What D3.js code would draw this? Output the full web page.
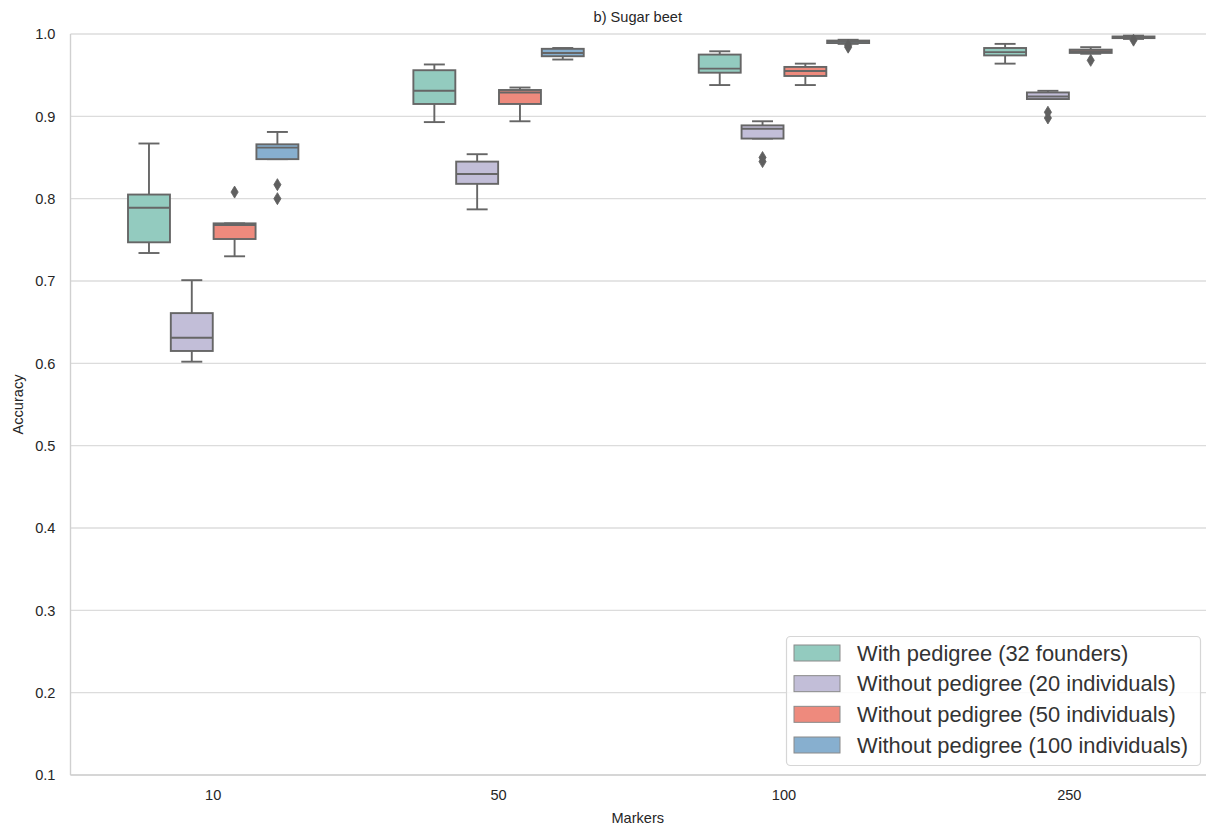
<!DOCTYPE html>
<html>
<head>
<meta charset="utf-8">
<script src="https://cdn.jsdelivr.net/npm/d3@7"></script>
<style>
  html, body { margin: 0; padding: 0; background: #fff; }
  svg { display: block; font-family: "Liberation Sans", Arial, sans-serif; }
</style>
</head>
<body>
<svg id="chart" width="1206" height="828"></svg>
<script>
// ---------- data ----------
const categories = ["10", "50", "100", "250"];
const seriesNames = [
  "With pedigree (32 founders)",
  "Without pedigree (20 individuals)",
  "Without pedigree (50 individuals)",
  "Without pedigree (100 individuals)"
];
const seriesColors = ["#93cbbf", "#c2bed8", "#ee8a7d", "#87afcf"];
const yTicks = [0.1, 0.2, 0.3, 0.4, 0.5, 0.6, 0.7, 0.8, 0.9, 1.0];

// box stats per category: [whiskerLow, q1, median, q3, whiskerHigh]
const withPedigree32 = [
  [0.734, 0.747, 0.789, 0.805, 0.867],
  [0.893, 0.915, 0.931, 0.956, 0.963],
  [0.938, 0.953, 0.958, 0.975, 0.979],
  [0.964, 0.974, 0.978, 0.983, 0.988]
];
const withoutPedigree20 = [
  [0.602, 0.615, 0.631, 0.661, 0.701],
  [0.787, 0.818, 0.830, 0.845, 0.854],
  [0.873, 0.873, 0.885, 0.889, 0.894],
  [0.921, 0.921, 0.924, 0.929, 0.931]
];
const withoutPedigree50 = [
  [0.730, 0.751, 0.768, 0.770, 0.770],
  [0.894, 0.915, 0.929, 0.932, 0.935],
  [0.938, 0.949, 0.955, 0.960, 0.964],
  [0.976, 0.977, 0.979, 0.981, 0.984]
];
const withoutPedigree100 = [
  [0.848, 0.848, 0.862, 0.866, 0.881],
  [0.969, 0.973, 0.977, 0.982, 0.983],
  [0.988, 0.989, 0.991, 0.992, 0.993],
  [0.994, 0.995, 0.996, 0.997, 0.998]
];
// outliers per category
const outliers32 = [[], [], [], []];
const outliers20 = [[], [], [0.845, 0.850], [0.898, 0.905]];
const outliers50 = [[0.808], [], [], [0.968]];
const outliers100 = [[0.800, 0.817], [], [0.984, 0.986], [0.9925]];

const seriesStats = [withPedigree32, withoutPedigree20, withoutPedigree50, withoutPedigree100];
const seriesOutliers = [outliers32, outliers20, outliers50, outliers100];

// ---------- layout ----------
const svg = d3.select("#chart");
const margin = { left: 70.5, right: 1212, top: 34, bottom: 775 };
const textColor = "#262626";
const gridColor = "#dcdcdc";
const lineGray = "#666666";
const fontSize = 14.6;

const x = d3.scaleBand().domain(categories).range([margin.left, margin.right]).paddingInner(0).paddingOuter(0);
const hueWidth = x.bandwidth() * 0.6 / seriesNames.length;
const hueScale = d3.scaleBand().domain(d3.range(seriesNames.length))
  .range([x.bandwidth() * 0.2, x.bandwidth() * 0.8]);
const boxW = hueWidth * 0.98;

const y = d3.scaleLinear().domain([0.1, 1.0]).range([margin.bottom, margin.top]);

// grid lines
svg.append("g").selectAll("line").data(yTicks).join("line")
  .attr("x1", margin.left).attr("x2", 1206)
  .attr("y1", d => y(d)).attr("y2", d => y(d))
  .attr("stroke", gridColor).attr("stroke-width", 1.3);

// spines
svg.append("line").attr("x1", margin.left).attr("x2", margin.left)
  .attr("y1", y(1.0)).attr("y2", y(0.1)).attr("stroke", "#d0d0d0").attr("stroke-width", 1.4);
svg.append("line").attr("x1", margin.left).attr("x2", 1206)
  .attr("y1", y(0.1)).attr("y2", y(0.1)).attr("stroke", "#d0d0d0").attr("stroke-width", 1.4);

// y axis tick labels
const yAxis = d3.axisLeft(y).tickValues(yTicks).tickFormat(d3.format(".1f")).tickSize(0).tickPadding(15);
const yg = svg.append("g").attr("transform", `translate(${margin.left},0)`).call(yAxis);
yg.select(".domain").remove();
yg.selectAll("text").attr("fill", textColor).style("font-size", fontSize + "px")
  .style("font-family", '"Liberation Sans", Arial, sans-serif');

// x axis tick labels
const xAxis = d3.axisBottom(x).tickSize(0).tickPadding(15);
const xg = svg.append("g").attr("transform", `translate(0,${margin.bottom})`).call(xAxis);
xg.select(".domain").remove();
xg.selectAll("text").attr("fill", textColor).style("font-size", fontSize + "px")
  .style("font-family", '"Liberation Sans", Arial, sans-serif');

// axis labels and title
svg.append("text").attr("x", (margin.left + 1205) / 2).attr("y", 823)
  .attr("text-anchor", "middle").attr("fill", textColor).style("font-size", fontSize + "px").text("Markers");
svg.append("text").attr("transform", `translate(23,${(y(1.0) + y(0.1)) / 2}) rotate(-90)`)
  .attr("text-anchor", "middle").attr("fill", textColor).style("font-size", fontSize + "px").text("Accuracy");
svg.append("text").attr("x", (margin.left + 1205) / 2).attr("y", 22)
  .attr("text-anchor", "middle").attr("fill", textColor).style("font-size", fontSize + "px").text("b) Sugar beet");

// ---------- boxes ----------
const lw = 1.9;
seriesNames.forEach((name, si) => {
  const g = svg.append("g");
  categories.forEach((cat, ci) => {
    const [wlo, q1, med, q3, whi] = seriesStats[si][ci];
    const cx = x(cat) + hueScale(si) + hueWidth / 2;
    // whiskers
    g.append("line").attr("x1", cx).attr("x2", cx).attr("y1", y(q3)).attr("y2", y(whi))
      .attr("stroke", lineGray).attr("stroke-width", lw);
    g.append("line").attr("x1", cx).attr("x2", cx).attr("y1", y(q1)).attr("y2", y(wlo))
      .attr("stroke", lineGray).attr("stroke-width", lw);
    // caps
    [wlo, whi].forEach(v => {
      g.append("line").attr("x1", cx - boxW / 4).attr("x2", cx + boxW / 4)
        .attr("y1", y(v)).attr("y2", y(v))
        .attr("stroke", lineGray).attr("stroke-width", lw);
    });
    // box
    g.append("rect").attr("x", cx - boxW / 2).attr("width", boxW)
      .attr("y", y(q3)).attr("height", Math.max(0.01, y(q1) - y(q3)))
      .attr("fill", seriesColors[si]).attr("stroke", lineGray).attr("stroke-width", lw);
    // median
    g.append("line").attr("x1", cx - boxW / 2).attr("x2", cx + boxW / 2)
      .attr("y1", y(med)).attr("y2", y(med))
      .attr("stroke", lineGray).attr("stroke-width", lw);
    // outliers (thin diamonds)
    seriesOutliers[si][ci].forEach(v => {
      const py = y(v);
      g.append("path")
        .attr("d", `M${cx},${py - 6} L${cx + 3.6},${py} L${cx},${py + 6} L${cx - 3.6},${py} Z`)
        .attr("fill", "#5f5f5f").attr("stroke", "#5f5f5f").attr("stroke-width", 0.8);
    });
  });
});

// ---------- legend ----------
const legend = svg.append("g");
legend.append("rect").attr("x", 786.5).attr("y", 636.5).attr("width", 414).attr("height", 129)
  .attr("rx", 4).attr("fill", "#ffffff").attr("fill-opacity", 0.85)
  .attr("stroke", "#d6d6d6").attr("stroke-width", 1.2);
const rowY = d3.scalePoint().domain(d3.range(seriesNames.length)).range([653, 745]);
seriesNames.forEach((name, i) => {
  legend.append("rect").attr("x", 794).attr("y", rowY(i) - 8).attr("width", 46).attr("height", 16)
    .attr("fill", seriesColors[i]).attr("stroke", "#8a8a8a").attr("stroke-width", 1);
  legend.append("text").attr("x", 857).attr("y", rowY(i) + 7.5)
    .attr("fill", "#333333").style("font-size", "21.9px").text(name);
});
</script>
</body>
</html>
